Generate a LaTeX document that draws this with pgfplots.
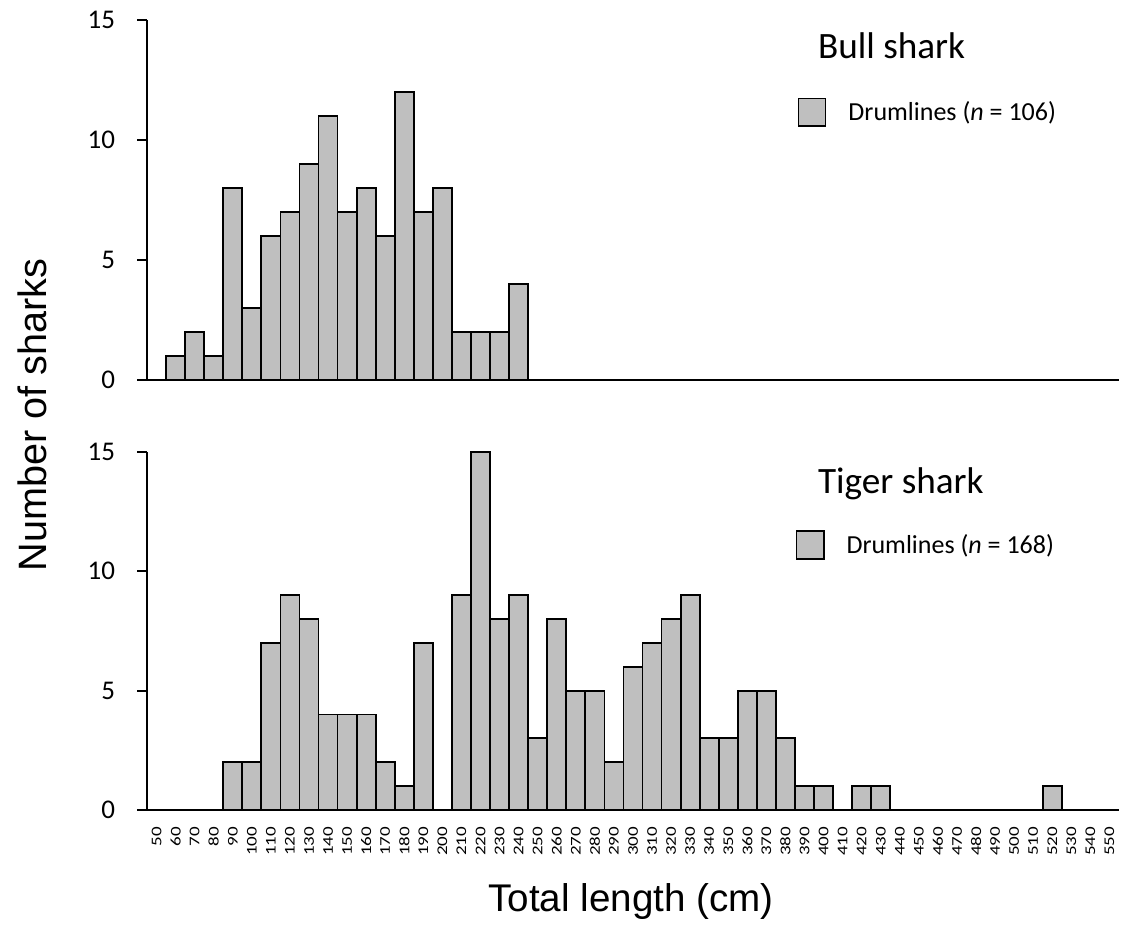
\documentclass[border=0pt]{standalone}
\usepackage{fontspec}
\setmainfont{Carlito}
\newfontfamily\arialf{Liberation Sans}
\usepackage{graphicx}
\usepackage{pgfplots}
\pgfplotsset{compat=1.18}
\definecolor{barfill}{RGB}{191,191,191}
\pgfplotsset{
  sharkaxis/.style={
    scale only axis,
    width=486pt,
    xmin=45, xmax=555,
    ymin=0, ymax=15,
    ytick={0,5,10,15},
    axis x line=bottom,
    axis y line=left,
    axis line style={-, line width=1pt},
    tick align=outside,
    major tick length=5pt,
    ytick style={line width=1pt, black},
    xtick style={draw=none},
    yticklabel style={font=\fontsize{13.5}{15}\selectfont, anchor=east, xshift=-7.5pt},
    /pgf/number format/assume math mode=true,
    /pgf/number format/1000 sep={},
    clip=false,
    ybar, bar width=10, bar shift=0pt,
    legend style={draw=none, fill=none, inner sep=0pt, anchor=west,
      font=\fontsize{13}{15}\selectfont,
      nodes={inner sep=0pt, anchor=west},
      /tikz/every odd column/.append style={column sep=11pt}},
    legend image code/.code={\draw[fill=barfill, draw=black, line width=0.8pt] (0pt,-6.9pt) rectangle (13.6pt,6.9pt);},
  },
  sharkbar/.style={fill=barfill, draw=black, line width=0.9pt},
}
\begin{document}
\begin{tikzpicture}
\path[use as bounding box] (0,0) rectangle (561pt,467.5pt);
% top panel: Bull shark
\begin{axis}[sharkaxis,
  height=180pt,
  at={(73.5pt,277.5pt)}, anchor=south west,
  xtick=\empty,
  legend style={at={(rel axis cs:0.669,0.744)}},
]
\addplot[sharkbar] coordinates {
(60,1)(70,2)(80,1)(90,8)(100,3)(110,6)(120,7)(130,9)(140,11)(150,7)
(160,8)(170,6)(180,12)(190,7)(200,8)(210,2)(220,2)(230,2)(240,4)};
\addlegendentry{Drumlines (\textit{n} = 106)}
\node[anchor=base west, inner sep=0pt, font=\fontsize{18.6}{20}\selectfont] at (rel axis cs:0.690,0.894) {Bull shark};
\end{axis}
% bottom panel: Tiger shark
\begin{axis}[sharkaxis,
  height=179pt,
  at={(73.5pt,62.5pt)}, anchor=south west,
  xtick={50,60,...,550},
  xticklabel={\scalebox{1}[0.78]{\pgfmathprintnumber{\tick}}},
  xticklabel style={rotate=90, anchor=east, font=\fontsize{9.5}{10}\selectfont},
  legend style={at={(rel axis cs:0.667,0.740)}},
]
\addplot[sharkbar] coordinates {
(90,2)(100,2)(110,7)(120,9)(130,8)(140,4)(150,4)(160,4)(170,2)(180,1)
(190,7)(210,9)(220,15)(230,8)(240,9)(250,3)(260,8)(270,5)(280,5)(290,2)
(300,6)(310,7)(320,8)(330,9)(340,3)(350,3)(360,5)(370,5)(380,3)(390,1)
(400,1)(420,1)(430,1)(520,1)};
\addlegendentry{Drumlines (\textit{n} = 168)}
\node[anchor=base west, inner sep=0pt, font=\fontsize{18.6}{20}\selectfont] at (rel axis cs:0.690,0.885) {Tiger shark};
\end{axis}
\node[rotate=90, font=\arialf\fontsize{19.8}{22}\selectfont] at (16pt,260pt) {Number of sharks};
\node[anchor=base, font=\arialf\fontsize{19.3}{22}\selectfont] at (315.5pt,12pt) {Total length (cm)};
\end{tikzpicture}
\end{document}
